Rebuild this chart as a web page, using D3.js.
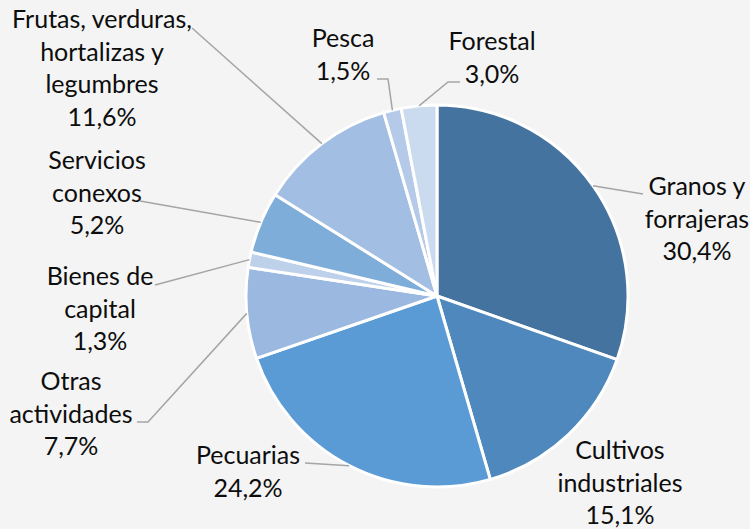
<!DOCTYPE html>
<html>
<head>
<meta charset="utf-8">
<title>Pie Chart</title>
<style type="text/css">
body { margin: 0; background: #f4f4f4; }
text { font-family: Lato, "Open Sans", sans-serif; font-size: 25px; fill: #0d0d0d; }
.leader { fill: none; stroke: #a5a5a5; stroke-width: 1.5; }
</style>
<script src="https://d3js.org/d3.v7.min.js"></script>
</head>
<body>
<div id="chart"></div>
<script>
// data, clockwise from 12 o'clock
var categories = [
	["Granos y", "forrajeras"],
	["Cultivos", "industriales"],
	["Pecuarias"],
	["Otras", "actividades"],
	["Bienes de", "capital"],
	["Servicios", "conexos"],
	["Frutas, verduras,", "hortalizas y", "legumbres"],
	["Pesca"],
	["Forestal"]
];
var shares = [30.4, 15.1, 24.2, 7.7, 1.3, 5.2, 11.6, 1.5, 3.0];

var colors = ["#44739f", "#4f88bc", "#5b9bd5", "#9ab8e0", "#bed1eb",
	"#7fadda", "#a3bee3", "#b5cae8", "#cadaef"];

// where each label sits: text centre, first baseline, leader start, optional elbow x
var labelPos = [
	{x: 697, y: 195, ax: 643, ay: 194},
	{x: 620, y: 459},
	{x: 248, y: 464, ax: 305, ay: 463},
	{x: 71, y: 390, ax: 137, ay: 422, ex: 148},
	{x: 100, y: 285, ax: 155, ay: 285},
	{x: 97, y: 169, ax: 140, ay: 201},
	{x: 102, y: 28, ax: 192, ay: 28},
	{x: 343, y: 47, ax: 377, ay: 79, ex: 388},
	{x: 492, y: 50, ax: 460, ay: 82, ex: 448}
];

var width = 750, height = 529;
var cx = 437, cy = 296, radius = 191;
var lineStep = 32.5;

var locale = d3.formatLocale({decimal: ",", thousands: ".", grouping: [3], currency: ["", ""]});
var pct = locale.format(".1f");

var svg = d3.select("#chart").append("svg")
	.attr("width", width)
	.attr("height", height);

svg.append("rect")
	.attr("width", width)
	.attr("height", height)
	.attr("fill", "#f4f4f4");

var pie = d3.pie()
	.sort(null)
	.value(d => d);

var arcs = pie(shares);

var arc = d3.arc()
	.innerRadius(0)
	.outerRadius(radius);

var edge = d3.arc()
	.innerRadius(radius)
	.outerRadius(radius);

var g = svg.append("g")
	.attr("transform", "translate(" + cx + "," + cy + ")");

g.selectAll("path.slice")
	.data(arcs)
	.enter()
	.append("path")
	.attr("class", "slice")
	.attr("d", arc)
	.attr("fill", (d, i) => colors[i])
	.attr("stroke", "#ffffff")
	.attr("stroke-width", 3)
	.attr("stroke-linejoin", "round");

// leader lines
svg.selectAll("polyline.leader")
	.data(arcs.filter((d, i) => labelPos[i].ax !== undefined))
	.enter()
	.append("polyline")
	.attr("class", "leader")
	.attr("points", function(d) {
		var p = labelPos[d.index];
		var c = edge.centroid(d);
		var pts = [[p.ax, p.ay]];
		if (p.ex !== undefined) pts.push([p.ex, p.ay]);
		pts.push([cx + c[0], cy + c[1]]);
		return pts.map(q => q.join(",")).join(" ");
	});

// labels
var labels = svg.selectAll("text.label")
	.data(arcs)
	.enter()
	.append("text")
	.attr("class", "label")
	.attr("text-anchor", "middle");

labels.each(function(d, i) {
	var t = d3.select(this);
	var p = labelPos[i];
	var lines = categories[i].concat([pct(shares[i]) + "%"]);
	lines.forEach(function(s, k) {
		t.append("tspan")
			.attr("x", p.x)
			.attr("y", p.y + k * lineStep)
			.text(s);
	});
});
</script>
</body>
</html>
